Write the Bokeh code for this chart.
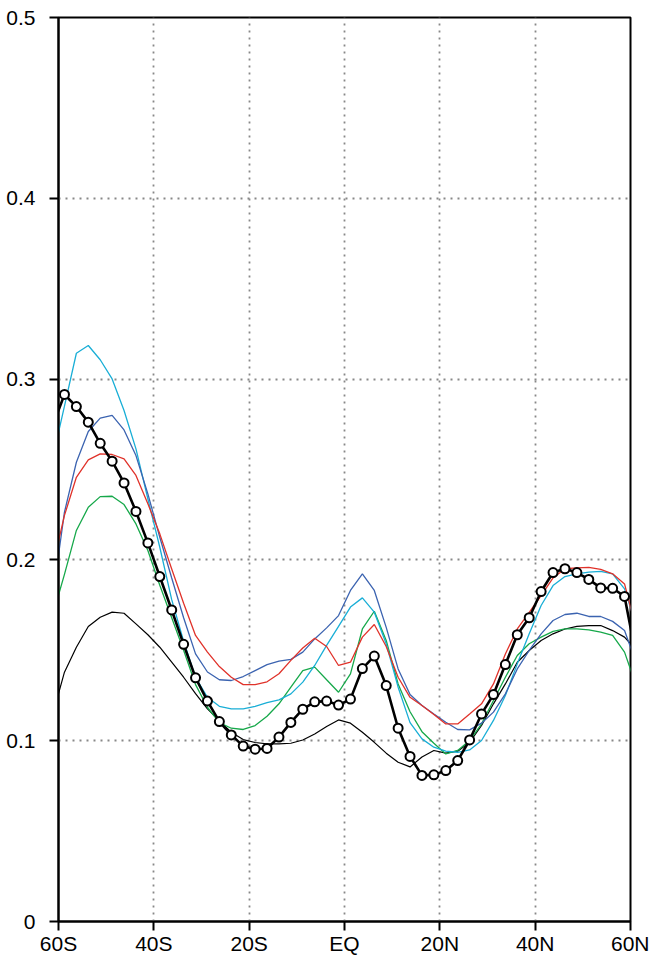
import numpy as np
from bokeh.plotting import figure
from bokeh.models import Range1d, FixedTicker
from bokeh.embed import file_html
from bokeh.resources import INLINE

# latitude grid (2.5 deg, centred on 1.25 offsets; outer points lie just outside the frame)
lat = np.arange(-61.25, 61.26, 2.5)

obs = [0.274, 0.2915, 0.2848, 0.2762, 0.2645, 0.2546, 0.2426, 0.2268, 0.2094, 0.1908,
       0.1723, 0.1533, 0.1348, 0.1219, 0.1106, 0.1032, 0.0970, 0.0953, 0.0957, 0.1020,
       0.1101, 0.1174, 0.1215, 0.1219, 0.1197, 0.1230, 0.1399, 0.1468, 0.1305, 0.1069,
       0.0913, 0.0808, 0.0811, 0.0835, 0.0890, 0.1004, 0.1148, 0.1255, 0.1421, 0.1586,
       0.1680, 0.1825, 0.1930, 0.1951, 0.1930, 0.1892, 0.1845, 0.1843, 0.1798, 0.1456]

blue = [0.179, 0.2264, 0.254, 0.271, 0.2784, 0.2799, 0.2719, 0.2577, 0.2365, 0.2125,
        0.190, 0.168, 0.148, 0.138, 0.1337, 0.1333, 0.1355, 0.1388, 0.1421, 0.1440,
        0.1450, 0.1490, 0.1563, 0.1624, 0.1692, 0.1831, 0.1923, 0.1831, 0.1627, 0.1397,
        0.1255, 0.1195, 0.1148, 0.1102, 0.1062, 0.1060, 0.1097, 0.1158, 0.1259, 0.1397,
        0.1499, 0.1591, 0.1665, 0.1698, 0.1705, 0.1687, 0.1687, 0.1660, 0.1609, 0.1425]

red = [0.196, 0.2246, 0.2457, 0.2553, 0.2586, 0.2583, 0.2559, 0.2467, 0.2310, 0.2144,
       0.195, 0.176, 0.1582, 0.149, 0.141, 0.1351, 0.131, 0.131, 0.1326, 0.137,
       0.1444, 0.1513, 0.1567, 0.1521, 0.1416, 0.1434, 0.1573, 0.1643, 0.1521, 0.1351,
       0.124, 0.1195, 0.1145, 0.1093, 0.1093, 0.1148, 0.1204, 0.1314, 0.148, 0.1618,
       0.171, 0.1803, 0.190, 0.1951, 0.1956, 0.1959, 0.1947, 0.1923, 0.1867, 0.161]

cyan = [0.256, 0.285, 0.3143, 0.3186, 0.3107, 0.3001, 0.2826, 0.2614, 0.2337, 0.207,
        0.178, 0.155, 0.135, 0.124, 0.119, 0.1176, 0.1176, 0.119, 0.121, 0.1226,
        0.1259, 0.1324, 0.1416, 0.1527, 0.1632, 0.1739, 0.179, 0.1711, 0.1536, 0.1296,
        0.110, 0.101, 0.0964, 0.0942, 0.0936, 0.0949, 0.1001, 0.1112, 0.125, 0.1425,
        0.1591, 0.1748, 0.1858, 0.1908, 0.1923, 0.1932, 0.1937, 0.1923, 0.184, 0.163]

green = [0.169, 0.192, 0.2163, 0.2291, 0.235, 0.2352, 0.2306, 0.2199, 0.2052, 0.186,
         0.168, 0.150, 0.131, 0.1185, 0.110, 0.1069, 0.1062, 0.1084, 0.1135, 0.1204,
         0.1296, 0.1388, 0.1407, 0.1337, 0.1268, 0.137, 0.1618, 0.1716, 0.1554, 0.1314,
         0.116, 0.105, 0.0986, 0.0927, 0.0946, 0.1001, 0.1093, 0.1222, 0.1351, 0.1471,
         0.1536, 0.1573, 0.1605, 0.1618, 0.1618, 0.1613, 0.160, 0.1582, 0.149, 0.130]

thin = [0.114, 0.1379, 0.1517, 0.1632, 0.1683, 0.1711, 0.1705, 0.1646, 0.1586, 0.1517,
        0.1434, 0.1351, 0.126, 0.1176, 0.111, 0.1047, 0.1006, 0.099, 0.0982, 0.0982,
        0.0986, 0.1004, 0.1037, 0.1078, 0.1115, 0.1097, 0.1047, 0.0991, 0.0931, 0.0881,
        0.0855, 0.091, 0.0946, 0.0931, 0.0942, 0.0991, 0.1084, 0.1204, 0.1314, 0.1434,
        0.1499, 0.1554, 0.1591, 0.1618, 0.1632, 0.1637, 0.1637, 0.1609, 0.1573, 0.150]

x_ticks = [-60, -40, -20, 0, 20, 40, 60]
x_labels = ["60S", "40S", "20S", "EQ", "20N", "40N", "60N"]
y_ticks = [0, 0.1, 0.2, 0.3, 0.4, 0.5]
y_labels = ["0", "0.1", "0.2", "0.3", "0.4", "0.5"]

FONT = "Liberation Sans"

p = figure(frame_width=572, frame_height=904, output_backend="svg", toolbar_location=None,
           x_range=Range1d(-60, 60), y_range=Range1d(0, 0.5),
           min_border_left=58, min_border_right=19, min_border_top=17, min_border_bottom=30)
p.background_fill_color = "white"
p.border_fill_color = "white"
p.outline_line_color = "black"
p.outline_line_width = 2

for ax, ticks, labels in ((p.xaxis[0], x_ticks, x_labels), (p.yaxis[0], y_ticks, y_labels)):
    ax.ticker = FixedTicker(ticks=ticks)
    ax.major_label_overrides = {t: l for t, l in zip(ticks, labels)}
    ax.axis_line_color = "black"
    ax.axis_line_width = 2
    ax.major_tick_line_color = "black"
    ax.major_tick_line_width = 2
    ax.major_tick_in = 0
    ax.major_tick_out = 9
    ax.minor_tick_line_color = None
    ax.major_label_text_font = FONT
    ax.major_label_text_font_size = "21px"
    ax.major_label_text_color = "black"
p.xaxis[0].major_label_standoff = 1
p.yaxis[0].major_label_standoff = 14

for g in (p.xgrid[0], p.ygrid[0]):
    g.grid_line_color = "#888888"
    g.grid_line_width = 1.8
    g.grid_line_dash = "2 5"

p.line(lat, thin, line_color="black", line_width=1.2)
p.line(lat, green, line_color="#16a84a", line_width=1.3)
p.line(lat, cyan, line_color="#19aed6", line_width=1.3)
p.line(lat, blue, line_color="#3b63b0", line_width=1.3)
p.line(lat, red, line_color="#e0322a", line_width=1.3)
p.line(lat, obs, line_color="black", line_width=2.6)
p.scatter(lat[1:-1], obs[1:-1], size=9, marker="circle", fill_color="white",
          line_color="black", line_width=2)

open("out.html", "w").write(file_html(p, INLINE))
